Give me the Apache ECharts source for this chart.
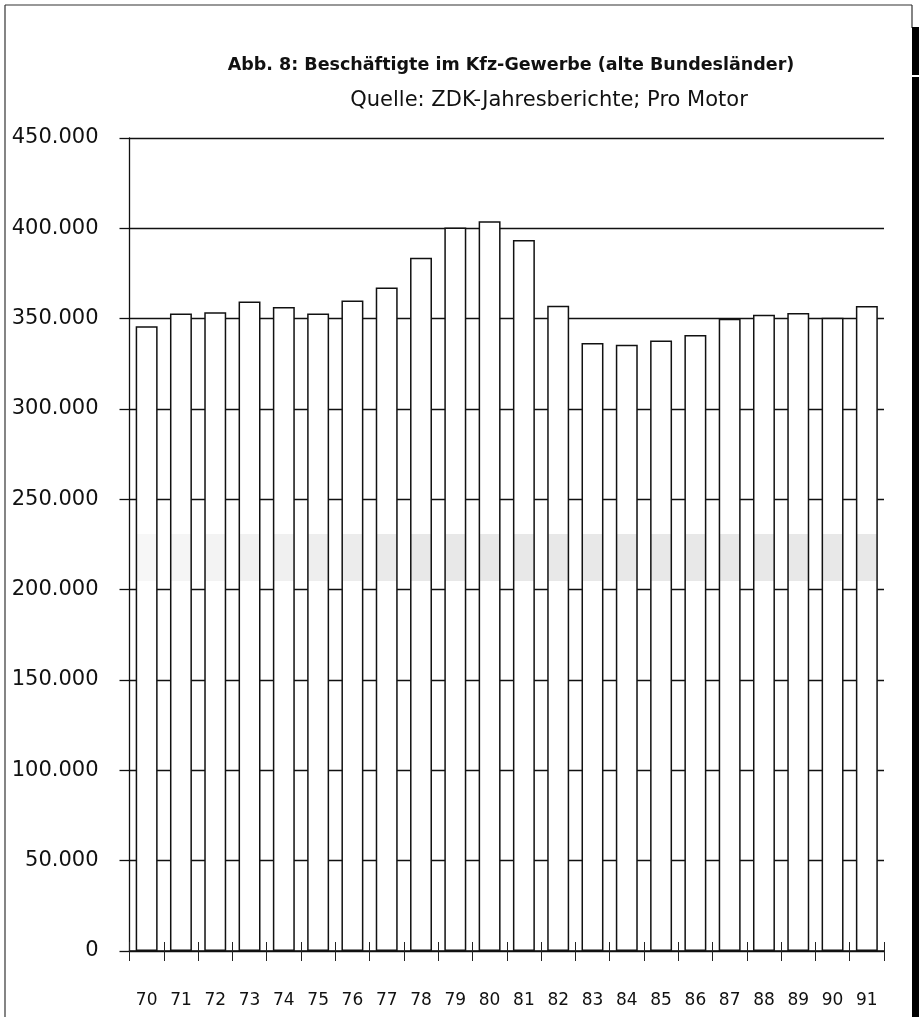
<!DOCTYPE html>
<html>
<head>
<meta charset="utf-8">
<script src="https://cdn.jsdelivr.net/npm/echarts@6/dist/echarts.min.js"></script>
<style>
  html, body { margin: 0; padding: 0; background: #fff; }
  #chart { width: 919px; height: 1017px; }
</style>
</head>
<body>
<div id="chart"></div>
<script>
// Beschäftigte im Kfz-Gewerbe, alte Bundesländer, 1970–1991
const years = ['70','71','72','73','74','75','76','77','78','79','80',
               '81','82','83','84','85','86','87','88','89','90','91'];
const employees = [345800, 352800, 353500, 359500, 356400, 352800, 360000,
                   367300, 383700, 400500, 403900, 393600, 357200, 336500,
                   335600, 337900, 341000, 350000, 352200, 353100, 350500, 357000];
const yTicks = [0, 50000, 100000, 150000, 200000, 250000, 300000, 350000, 400000, 450000];

const titleText = 'Abb. 8: Beschäftigte im Kfz-Gewerbe (alte Bundesländer)';
const sourceText = 'Quelle: ZDK-Jahresberichte; Pro Motor';

// German thousands separator: 450000 -> "450.000"
function deNumber(v) {
  return String(Math.round(v)).replace(/\B(?=(\d{3})+(?!\d))/g, '.');
}

// light halftone band printed across the bars
const BAND_LOW = 205000, BAND_HIGH = 231000;
function barFill(value, idx) {
  const g = Math.round(247 - 15 * Math.min(1, idx / 8));
  const band = 'rgb(' + g + ',' + g + ',' + g + ')';
  const a = Math.max(0, 1 - BAND_HIGH / value);
  const b = Math.max(0, 1 - BAND_LOW / value);
  return new echarts.graphic.LinearGradient(0, 0, 0, 1, [
    { offset: 0, color: '#fff' },
    { offset: a, color: '#fff' },
    { offset: a, color: band },
    { offset: b, color: band },
    { offset: b, color: '#fff' },
    { offset: 1, color: '#fff' }
  ]);
}

const chart = echarts.init(document.getElementById('chart'), null, { renderer: 'canvas' });

const axisFont = '"DejaVu Sans", sans-serif';

chart.setOption({
  backgroundColor: '#fff',
  animation: false,
  title: [
    {
      text: titleText,
      left: 506, top: 51, textAlign: 'center',
      textStyle: { fontFamily: '"DejaVu Sans", sans-serif', fontWeight: 'bold', fontSize: 17.5, color: '#111' }
    },
    {
      text: sourceText,
      left: 544, top: 85, textAlign: 'center',
      textStyle: { fontFamily: '"DejaVu Sans", sans-serif', fontWeight: 'normal', fontSize: 21, color: '#111' }
    }
  ],
  grid: { left: 129.5, right: 35, top: 138, bottom: 66, containLabel: false },
  xAxis: [
    {
      type: 'category',
      data: years,
      boundaryGap: true,
      axisLine: { show: true, lineStyle: { color: '#111', width: 1.5 } },
      axisTick: { show: true, inside: false, length: 10, alignWithLabel: false, lineStyle: { color: '#222', width: 1 } },
      axisLabel: { margin: 41, fontFamily: axisFont, fontSize: 17, color: '#111' },
      splitLine: { show: false }
    },
    {
      type: 'category',
      data: years,
      position: 'bottom',
      boundaryGap: true,
      axisLine: { show: false },
      axisTick: { show: true, inside: true, length: 9, lineStyle: { color: '#222', width: 1 } },
      axisLabel: { show: false },
      splitLine: { show: false }
    }
  ],
  yAxis: {
    type: 'value',
    min: 0, max: 450000, interval: 50000,
    axisLine: { show: true, lineStyle: { color: '#111', width: 1.3 } },
    axisTick: { show: true, inside: false, length: 10, lineStyle: { color: '#111', width: 1.3 } },
    axisLabel: {
      margin: 31, fontFamily: axisFont, fontSize: 21, color: '#111',
      formatter: v => yTicks.includes(v) ? deNumber(v) : ''
    },
    splitLine: { show: true, lineStyle: { color: '#111', width: 1.3 } }
  },
  series: [
    {
      type: 'bar',
      xAxisIndex: 0,
      barWidth: '64%',
      z: 3,
      data: employees.map((v, i) => ({
        value: v,
        itemStyle: { color: barFill(v, i) }
      })),
      itemStyle: { borderColor: '#111', borderWidth: 1.5 }
    }
  ],
  graphic: [
    // page frame
    { type: 'line', shape: { x1: 5, y1: 5, x2: 912, y2: 5 }, style: { stroke: '#333', lineWidth: 1.2 } },
    { type: 'line', shape: { x1: 5, y1: 5, x2: 5, y2: 1017 }, style: { stroke: '#333', lineWidth: 1.2 } },
    { type: 'line', shape: { x1: 912, y1: 5, x2: 912, y2: 28 }, style: { stroke: '#333', lineWidth: 1.2 } },
    { type: 'rect', shape: { x: 912, y: 27, width: 7, height: 48 }, style: { fill: '#000' } },
    { type: 'rect', shape: { x: 912, y: 77, width: 7, height: 940 }, style: { fill: '#000' } }
  ]
});
</script>
</body>
</html>
